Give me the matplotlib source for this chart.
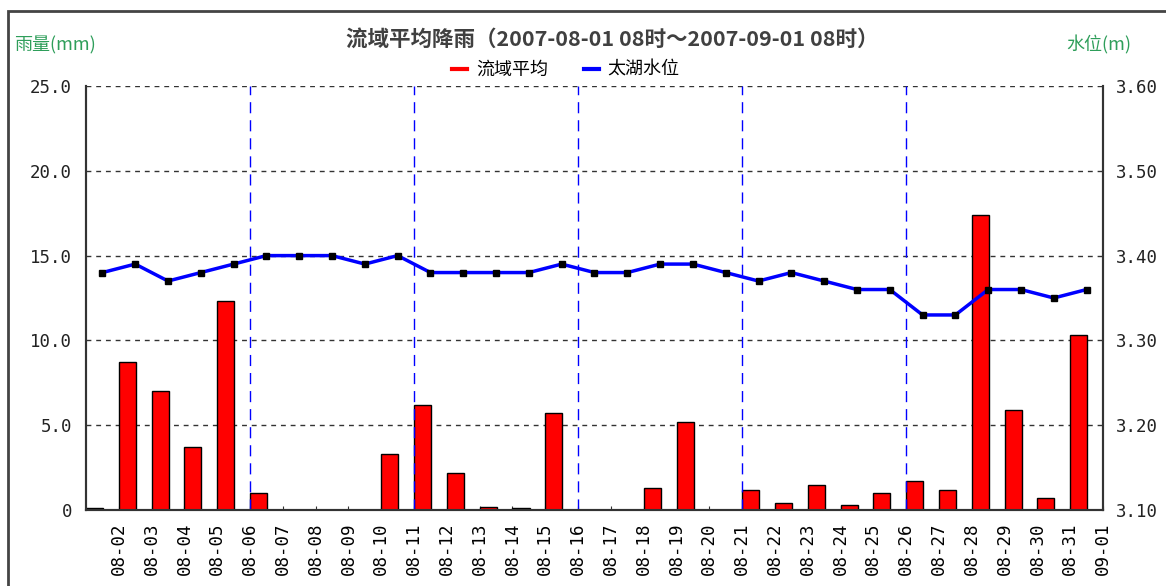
import matplotlib
matplotlib.use("Agg")
import matplotlib.pyplot as plt
from matplotlib.lines import Line2D
from matplotlib.patches import Rectangle

plt.rcParams['font.family'] = ['Noto Sans CJK SC', 'DejaVu Sans']

# data
day_labels = ['08-02', '08-03', '08-04', '08-05', '08-06', '08-07', '08-08', '08-09',
              '08-10', '08-11', '08-12', '08-13', '08-14', '08-15', '08-16', '08-17',
              '08-18', '08-19', '08-20', '08-21', '08-22', '08-23', '08-24', '08-25',
              '08-26', '08-27', '08-28', '08-29', '08-30', '08-31', '09-01']
rain = [0.1, 8.7, 7.0, 3.7, 12.3, 1.0, 0, 0, 0, 3.3, 6.2, 2.2, 0.2, 0.1, 5.7, 0,
        0, 1.3, 5.2, 0, 1.2, 0.4, 1.5, 0.3, 1.0, 1.7, 1.2, 17.4, 5.9, 0.7, 10.3]
level = [3.38, 3.39, 3.37, 3.38, 3.39, 3.40, 3.40, 3.40, 3.39, 3.40, 3.38, 3.38,
         3.38, 3.38, 3.39, 3.38, 3.38, 3.39, 3.39, 3.38, 3.37, 3.38, 3.37, 3.36,
         3.36, 3.33, 3.33, 3.36, 3.36, 3.35, 3.36]
rain_ticks = [0, 5, 10, 15, 20, 25]
rain_tick_labels = ['0', '5.0', '10.0', '15.0', '20.0', '25.0']
level_ticks = [3.1, 3.2, 3.3, 3.4, 3.5, 3.6]
level_tick_labels = ['3.10', '3.20', '3.30', '3.40', '3.50', '3.60']
week_marks = [5, 10, 15, 20, 25]

fig = plt.figure(figsize=(11.66, 5.86), dpi=100)
ax = fig.add_axes([86/1166, 76/586, 1017/1166, 424/586])
ax2 = ax.twinx()

days = list(range(len(rain)))
ax.bar(days, rain, width=0.52, align='edge', color='#ff0000',
       edgecolor='black', linewidth=1.0, zorder=3)

ax2.plot([d + 0.5 for d in days], level, color='#0000ff', lw=2.5,
         marker='s', markersize=4, markerfacecolor='black',
         markeredgecolor='black', zorder=5)

for m in week_marks:
    ax.axvline(m, color='#0000ff', lw=1.0, linestyle=(0, (8, 5)), zorder=4)

ax.set_xlim(0, 31)
ax.set_ylim(0, 25)
ax2.set_ylim(3.1, 3.6)

# grid
for t in rain_ticks[1:]:
    ax.axhline(t, color='#333333', lw=1.0, linestyle=(0, (3.5, 3.5)), zorder=1)

mono = 'DejaVu Sans Mono'
ax.set_xticks(range(1, 32))
ax.set_xticklabels(day_labels, rotation=90, family=mono, fontsize=12.5)
ax.tick_params(axis='x', direction='in', length=3, pad=9, color='#333333')

ax.set_yticks(rain_ticks)
ax.set_yticklabels(rain_tick_labels, family=mono, fontsize=12.5, color='#222222')
ax.tick_params(axis='y', length=0, pad=10)
ax2.set_yticks(level_ticks)
ax2.set_yticklabels(level_tick_labels, family=mono, fontsize=12.5, color='#222222')
ax2.tick_params(axis='y', length=0, pad=9)

for a in (ax, ax2):
    a.spines['top'].set_visible(False)
    for s in ('left', 'right', 'bottom'):
        a.spines[s].set_color('#333333')
        a.spines[s].set_linewidth(1.5)

# outer frame
fig.patches.append(Rectangle((8/1166, -0.2), 2.0, 1.2 - 11/586,
                             transform=fig.transFigure, fill=False,
                             edgecolor='#444444', lw=2))

fig.text(612/1166, 1 - 39/586, '流域平均降雨（2007-08-01 08时～2007-09-01 08时）',
         ha='center', va='center', fontsize=15.5, fontweight='bold', color='#404040')

fig.text(14/1166, 1 - 45/586, '雨量(mm)', ha='left', va='center',
         fontsize=13, color='#2e9e5a')
fig.text(1066/1166, 1 - 45/586, '水位(m)', ha='left', va='center',
         fontsize=13, color='#2e9e5a')

handles = [Line2D([0], [0], color='#ff0000', lw=3),
           Line2D([0], [0], color='#0000ff', lw=3)]
fig.legend(handles, ['流域平均', '太湖水位'], loc='center', ncol=2,
           bbox_to_anchor=(566/1166, 1 - 70/586), frameon=False,
           fontsize=13, handlelength=0.8, handletextpad=0.5, columnspacing=2.0)

fig.savefig('out.png', dpi=100)
